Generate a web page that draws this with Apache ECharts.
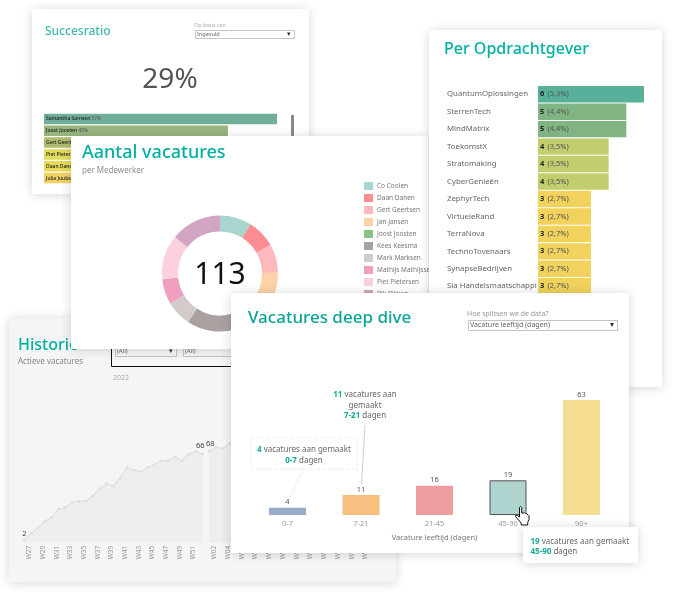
<!DOCTYPE html>
<html>
<head>
<meta charset="utf-8">
<title>Vacatures dashboard</title>
<script src="https://cdn.jsdelivr.net/npm/echarts@6/dist/echarts.min.js"></script>
<style>
  html, body { margin: 0; padding: 0; background: #fff; }
  #main { width: 683px; height: 610px; }
</style>
</head>
<body>
<div id="main"></div>
<script>
// Succesratio
var ratioNames = ['Samantha Samsen', 'Joost Joosten', 'Gert Geertsen', 'Piet Pietersen', 'Daan Danen', 'Julia Juubs'];
var ratioValues = [57, 45, 40, 38, 35, 30];
var ratioColors = ['#70ae9a', '#97b67e', '#aebd6f', '#e2dc5e', '#e8da57', '#f1cf62'];

// Per opdrachtgever
var clientNames = ['QuantumOplossingen', 'SterrenTech', 'MindMatrix', 'ToekomstX', 'Stratomaking', 'CyberGenieën', 'ZephyrTech', 'VirtueleRand', 'TerraNova', 'TechnoTovenaars', 'SynapseBedrijven', 'Sia Handelsmaatschappi'];
var clientValues = [6, 5, 5, 4, 4, 4, 3, 3, 3, 3, 3, 3];
var clientShares = ['5,3%', '4,4%', '4,4%', '3,5%', '3,5%', '3,5%', '2,7%', '2,7%', '2,7%', '2,7%', '2,7%', '2,7%'];
var clientColors = { 6: '#57b09a', 5: '#80b583', 4: '#c2cd6e', 3: '#f0d25c' };

// Aantal vacatures
var staffNames = ['Co Coolen', 'Daan Danen', 'Gert Geertsen', 'Jan Jansen', 'Joost Joosten', 'Kees Keesma', 'Mark Marksen', 'Mathijs Mathijssen', 'Piet Pietersen', 'Rik Rikken'];
var staffValues = [10, 9, 9, 12, 11, 16, 8, 8, 14, 16];
var staffColors = ['#a8d5cf', '#fc8d93', '#ffb8bb', '#fdd2a7', '#88c486', '#a9a0a0', '#d3cbc9', '#ef9fbf', '#fdd0e0', '#d2a5c3'];

// Historie
var weeks2022 = ['W27', 'W28', 'W29', 'W30', 'W31', 'W32', 'W33', 'W34', 'W35', 'W36', 'W37', 'W38', 'W39', 'W40', 'W41', 'W42', 'W43', 'W44', 'W45', 'W46', 'W47', 'W48', 'W49', 'W50', 'W51', 'W52', 'W53'];
var active2022 = [2, 7, 11, 16, 19, 25, 26, 30, 31, 31, 35, 40, 44, 42, 48, 56, 54, 53, 56, 58, 61, 61, 64, 61, 66, 68, 66];
var weeks2023 = ['W02', 'W03', 'W04', 'W05', 'W06', 'W07', 'W08', 'W09', 'W10', 'W11', 'W12', 'W13', 'W14', 'W15', 'W16', 'W17', 'W18', 'W19', 'W20', 'W21', 'W22', 'W23', 'W24', 'W25', 'W26'];
var active2023 = [68, 71, 70, 74];

// Vacatures deep dive
var ageBuckets = ['0-7', '7-21', '21-45', '45-90', '90+'];
var ageValues = [4, 11, 16, 19, 63];
var ageColors = ['#97adc9', '#f8bf80', '#ee9ea0', '#afd4d0', '#f5de92'];

var FONT = '"Noto Sans", sans-serif';
var TEAL = '#00b0a0';
// stacking of the cards, bottom to top
var L_HIST = 0, L_SUCC = 1, L_AANTAL = 2, L_OPDR = 3, L_DEEP = 4, L_TIP = 5;

var myChart = echarts.init(document.getElementById('main'));

function card(x, y, w, h, level, fill) {
  return {
    type: 'rect', zlevel: level, z: 0, silent: true,
    shape: { x: x, y: y, width: w, height: h },
    style: { fill: fill || '#fff', shadowBlur: 10, shadowColor: 'rgba(0,0,0,0.16)', shadowOffsetY: 1 }
  };
}
function txt(text, x, y, size, color, level, align, rich) {
  return {
    type: 'text', zlevel: level, z: 6, silent: true, x: x, y: y,
    style: { text: text, fill: color, font: size + 'px ' + FONT, align: align || 'left', verticalAlign: 'middle', rich: rich }
  };
}
function dropdown(x, y, w, h, label, size, level, fill) {
  return [
    {
      type: 'rect', zlevel: level, z: 5, silent: true,
      shape: { x: x + 0.5, y: y + 0.5, width: w, height: h },
      style: { fill: fill || '#fff', stroke: '#c4c4c4', lineWidth: 1 }
    },
    txt(label, x + 2, y + h / 2, size, '#666', level),
    txt('▾', x + w - 5, y + h / 2, size + 1, '#333', level, 'center')
  ];
}
function heading(text, x, y, size, color, level, weight) {
  return {
    text: text, left: x, top: y, padding: 0, zlevel: level,
    textStyle: { fontFamily: FONT, fontSize: size, fontWeight: weight || 500, color: color }
  };
}

// pointer outline, 14 wide and 19 high
var handOutline = [[4.5, 1.5], [5.5, 0.3], [6.7, 1.5], [6.7, 7], [8.7, 7], [9.5, 6.6], [10.5, 7.6], [11.2, 7.4], [12, 8.4], [13, 8.6], [14, 9.6], [14, 13.5], [12.7, 16.5], [12.7, 19], [6.2, 19], [6.2, 17], [0.6, 10.6], [1, 9], [2.2, 9.2], [4.5, 11]];
var annoRich = {
  a: { fill: '#12a898', fontFamily: FONT, fontSize: 8, fontWeight: 700, lineHeight: 10.5 },
  b: { fill: '#666', fontFamily: FONT, fontSize: 8, lineHeight: 10.5 }
};

var shapes = [
  card(9, 318, 387, 264, L_HIST, '#f5f5f5'),
  { type: 'rect', zlevel: L_HIST, z: 1, silent: true, shape: { x: 111.5, y: 326.5, width: 300, height: 40 }, style: { fill: 'none', stroke: '#111', lineWidth: 1 } },
  txt('2022', 113, 378, 7, '#aaa', L_HIST),
  card(32, 9, 277, 185, L_SUCC),
  txt('Op basis van', 194, 25, 5.3, '#aaa', L_SUCC),
  txt('29%', 170, 80, 28, '#555', L_SUCC, 'center'),
  { type: 'rect', zlevel: L_SUCC, z: 5, silent: true, shape: { x: 291, y: 115, width: 3, height: 30 }, style: { fill: '#888' } },
  card(71, 136, 357, 213, L_AANTAL),
  txt('113', 220, 275, 30, '#111', L_AANTAL, 'center'),
  card(429, 30, 233, 357, L_OPDR),
  card(231, 293, 398, 260, L_DEEP),
  txt('Hoe splitsen we de data?', 467, 313.5, 7, '#999', L_DEEP),
  txt('{a|11} {b|vacatures aan}\n{b|gemaakt}\n{a|7-21} {b|dagen}', 365, 405.5, 8, '#666', L_DEEP, 'center', annoRich),
  { type: 'line', zlevel: L_DEEP, z: 5, silent: true, shape: { x1: 365, y1: 425, x2: 361.5, y2: 484 }, style: { stroke: '#ccc', lineWidth: 1 } },
  { type: 'rect', zlevel: L_DEEP, z: 5, silent: true, shape: { x: 251, y: 438, width: 106, height: 31 }, style: { fill: '#fff', stroke: '#ddd', lineWidth: 1, lineDash: [1, 2] } },
  txt('{a|4} {b|vacatures aan gemaakt}\n{a|0-7} {b|dagen}', 304, 455, 8, '#666', L_DEEP, 'center', annoRich),
  { type: 'line', zlevel: L_DEEP, z: 5, silent: true, shape: { x1: 304, y1: 469, x2: 290, y2: 497 }, style: { stroke: '#ccc', lineWidth: 1, lineDash: [1, 2] } },
  card(523, 527, 115, 36, L_TIP),
  txt('{a|19} {b|vacatures aan gemaakt}\n{a|45-90} {b|dagen}', 530.5, 546.5, 8, '#666', L_TIP, 'left', annoRich),
  {
    type: 'polygon', zlevel: L_TIP, z: 7, silent: true, x: 515, y: 506,
    shape: { points: handOutline },
    style: { fill: '#fff', stroke: '#111', lineWidth: 1 }
  }
].concat(
  dropdown(115, 346, 61, 10, '(All)', 6, L_HIST, '#f5f5f5'),
  dropdown(183, 346, 61, 10, '(All)', 6, L_HIST, '#f5f5f5'),
  dropdown(195, 30, 99, 8, 'Ingevuld', 5.5, L_SUCC),
  dropdown(468, 320, 149, 10, 'Vacature leeftijd (dagen)', 7, L_DEEP)
);

function weekAxis(weeks, gridIndex) {
  return {
    type: 'category', gridIndex: gridIndex, data: weeks, boundaryGap: false, zlevel: L_HIST, z: 3,
    axisLine: { show: false }, axisTick: { show: false },
    axisLabel: { rotate: 90, interval: 1, showMaxLabel: false, margin: 3, verticalAlign: 'top', lineHeight: 10, color: '#999', fontSize: 6.5, fontFamily: FONT }
  };
}
function hiddenValue(gridIndex, max, level) {
  return { type: 'value', gridIndex: gridIndex, min: 0, max: max, show: false, zlevel: level };
}
function weekSeries(values, axisIndex, labelled) {
  return {
    type: 'line', xAxisIndex: axisIndex, yAxisIndex: axisIndex, zlevel: L_HIST, z: 2,
    symbol: 'circle', symbolSize: 3, silent: true,
    itemStyle: { color: '#e0e0e0' }, lineStyle: { color: '#e0e0e0', width: 1.2 },
    areaStyle: { color: '#eeeeee', opacity: 1 },
    data: values.map(function (v, i) {
      var spec = labelled[i];
      return spec ? {
        value: v,
        label: { show: true, position: 'top', distance: 1, offset: spec, color: '#444', fontSize: 7.5, fontFamily: FONT }
      } : v;
    })
  };
}

var option = {
  animation: false,
  backgroundColor: '#fff',
  textStyle: { fontFamily: FONT },
  title: [
    heading('Succesratio', 45, 26, 12, '#3fb8ab', L_SUCC),
    heading('Aantal vacatures', 82, 143.5, 18, TEAL, L_AANTAL),
    heading('per Medewerker', 82, 167, 8, '#8e8e8e', L_AANTAL, 400),
    heading('Per Opdrachtgever', 444, 41, 16, TEAL, L_OPDR),
    heading('Historie', 18, 337, 16, TEAL, L_HIST),
    heading('Actieve vacatures', 18, 358, 8, '#888', L_HIST, 400),
    heading('Vacatures deep dive', 248, 310, 17, '#0aa595', L_DEEP)
  ],
  legend: {
    zlevel: L_AANTAL, orient: 'vertical', left: 364, top: 182, padding: 0, icon: 'rect',
    itemWidth: 9, itemHeight: 8, itemGap: 4, selectedMode: false,
    textStyle: { fontSize: 6.5, color: '#777', fontFamily: FONT, padding: [0, 0, 0, -1] },
    data: staffNames
  },
  grid: [
    { left: 44, top: 113, width: 233, height: 71 },
    { left: 538, top: 85.5, width: 106, height: 209.5 },
    { left: 24.3, top: 408.3, width: 178, height: 134.4 },
    { left: 209.3, top: 408.3, width: 165, height: 134.4 },
    { left: 250.75, top: 387.25, width: 367.5, height: 127.75 }
  ],
  xAxis: [
    hiddenValue(0, 57, L_SUCC),
    hiddenValue(1, 6, L_OPDR),
    weekAxis(weeks2022, 2),
    weekAxis(weeks2023, 3),
    {
      type: 'category', gridIndex: 4, data: ageBuckets, zlevel: L_DEEP, z: 3,
      name: 'Vacature leeftijd (dagen)', nameLocation: 'middle', nameGap: 19,
      nameTextStyle: { color: '#777', fontSize: 7.5, fontFamily: FONT },
      axisLine: { show: false }, axisTick: { show: false },
      axisLabel: { margin: 5, color: '#999', fontSize: 7.5, fontFamily: FONT }
    }
  ],
  yAxis: [
    { type: 'category', gridIndex: 0, data: ratioNames, inverse: true, show: false, zlevel: L_SUCC },
    {
      type: 'category', gridIndex: 1, data: clientNames, inverse: true, zlevel: L_OPDR, z: 3,
      axisLine: { show: false }, axisTick: { show: false },
      axisLabel: { align: 'left', margin: 91, padding: [2, 0, 0, 0], color: '#666', fontSize: 7.8, fontFamily: FONT }
    },
    hiddenValue(2, 100, L_HIST),
    hiddenValue(3, 100, L_HIST),
    hiddenValue(4, 70, L_DEEP)
  ],
  series: [
    {
      type: 'bar', xAxisIndex: 0, yAxisIndex: 0, zlevel: L_SUCC, z: 2, barWidth: 10.5, silent: true,
      data: ratioValues.map(function (v, i) { return { value: v, itemStyle: { color: ratioColors[i] } }; }),
      label: {
        show: true, position: 'insideLeft', distance: 2, fontFamily: FONT, color: '#222', fontSize: 5,
        formatter: function (p) { return '{n|' + p.name + '} {p|' + p.value + '%}'; },
        rich: { n: { fontSize: 5, fontWeight: 500, color: '#222' }, p: { fontSize: 4.8, color: '#555' } }
      }
    },
    {
      type: 'bar', xAxisIndex: 1, yAxisIndex: 1, zlevel: L_OPDR, z: 2, barWidth: 16.4, silent: true,
      data: clientValues.map(function (v) { return { value: v, itemStyle: { color: clientColors[v] } }; }),
      label: {
        show: true, position: 'insideLeft', distance: 2, fontFamily: FONT,
        formatter: function (p) { return '{n|' + p.value + '} {p|(' + clientShares[p.dataIndex] + ')}'; },
        rich: { n: { fontSize: 7.5, fontWeight: 700, color: '#222' }, p: { fontSize: 7.5, color: '#555' } }
      }
    },
    {
      type: 'pie', zlevel: L_AANTAL, z: 2, center: [220, 273.5], radius: [42, 58], startAngle: 90, clockwise: true,
      silent: true, label: { show: false }, labelLine: { show: false },
      data: staffValues.map(function (v, i) { return { name: staffNames[i], value: v, itemStyle: { color: staffColors[i] } }; })
    },
    weekSeries(active2022, 2, { 0: [0, 0], 26: [-2, -2] }),
    weekSeries(active2023, 3, { 0: [1, -1] }),
    {
      type: 'bar', xAxisIndex: 4, yAxisIndex: 4, zlevel: L_DEEP, z: 2, barWidth: 37, silent: true,
      data: ageValues.map(function (v, i) {
        var style = { color: ageColors[i] };
        if (ageBuckets[i] === '45-90') { style.borderColor = '#555'; style.borderWidth = 1; }
        return { value: v, itemStyle: style };
      }),
      label: { show: true, position: 'top', distance: 1.5, color: '#555', fontSize: 7.5, fontFamily: FONT }
    }
  ],
  graphic: { elements: shapes }
};

myChart.setOption(option);
</script>
</body>
</html>
